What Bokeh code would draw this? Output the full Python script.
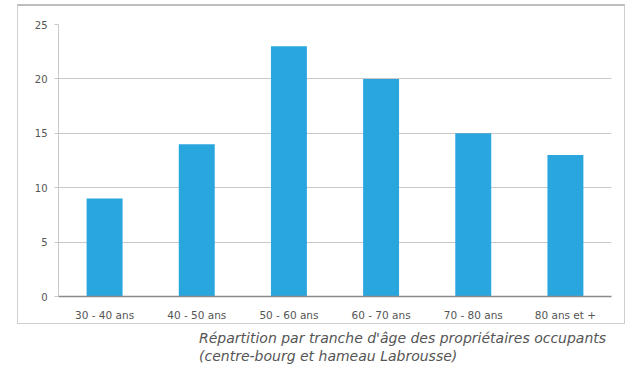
from bokeh.plotting import figure
from bokeh.models import Div, FixedTicker
from bokeh.layouts import column
from bokeh.embed import file_html
from bokeh.resources import INLINE

categories = ["30 - 40 ans", "40 - 50 ans", "50 - 60 ans", "60 - 70 ans", "70 - 80 ans", "80 ans et +"]
values = [9, 14, 23, 20, 15, 13]
y_ticks = [0, 5, 10, 15, 20, 25]
caption_lines = ["Répartition par tranche d'âge des propriétaires occupants",
                 "(centre-bourg et hameau Labrousse)"]

p = figure(x_range=categories, y_range=(0, 25), width=608, height=320,
           output_backend="svg", toolbar_location=None,
           min_border_left=40, min_border_right=15, min_border_top=18, min_border_bottom=30,
           margin=(4, 0, 0, 17),
           styles={"border-left": "1px solid #cfcfcf", "border-right": "1px solid #cfcfcf",
                   "border-bottom": "1px solid #cfcfcf", "border-top": "2px solid #bdbdbd"})
p.border_fill_color = None
p.background_fill_color = "white"

p.vbar(x=categories, top=values, width=0.39, color="#29a6de", line_color=None)

p.outline_line_color = None
p.xgrid.grid_line_color = None
p.ygrid.grid_line_color = "#c8c8c8"
p.ygrid.grid_line_width = 1
p.yaxis.ticker = FixedTicker(ticks=y_ticks)
p.yaxis.axis_line_color = "#c8c8c8"
p.yaxis.major_tick_line_color = "#c8c8c8"
p.yaxis.major_tick_in = 0
p.yaxis.major_tick_out = 4
p.yaxis.minor_tick_line_color = None
p.yaxis.major_label_text_font_size = "10px"
p.yaxis.major_label_text_color = "#555555"
p.yaxis.major_label_text_font = "DejaVu Sans"
p.yaxis.major_label_standoff = 7

p.xaxis.axis_line_color = "#8a8a8a"
p.xaxis.axis_line_width = 1.5
p.xaxis.major_tick_line_color = None
p.xaxis.major_label_text_font_size = "10.5px"
p.xaxis.major_label_text_color = "#555555"
p.xaxis.major_label_text_font = "DejaVu Sans"
p.xaxis.major_label_standoff = 6

cap = Div(text="<br>".join(caption_lines), margin=(5, 0, 0, 199),
          styles={"font-family": "DejaVu Sans, sans-serif", "font-style": "italic",
                  "font-size": "14px", "line-height": "18px", "color": "#555555"})

layout = column(p, cap, spacing=0)
open("out.html", "w").write(file_html(layout, INLINE))
